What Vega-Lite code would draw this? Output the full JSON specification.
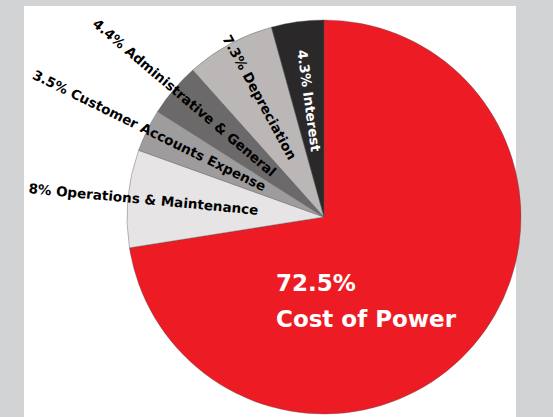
{
  "$schema": "https://vega.github.io/schema/vega-lite/v6.json",
  "width": 492,
  "height": 411,
  "autosize": {"type": "none"},
  "padding": {"left": 24, "top": 6, "right": 37, "bottom": 0},
  "background": "#d1d3d4",
  "view": {"fill": "white", "stroke": null},
  "data": {
    "values": [
      {"category": "Cost of Power", "pct": 72.5, "label": "72.5% Cost of Power"},
      {"category": "Operations & Maintenance", "pct": 8, "label": "8% Operations & Maintenance"},
      {"category": "Customer Accounts Expense", "pct": 3.5, "label": "3.5% Customer Accounts Expense"},
      {"category": "Administrative & General", "pct": 4.4, "label": "4.4% Administrative & General"},
      {"category": "Depreciation", "pct": 7.3, "label": "7.3% Depreciation"},
      {"category": "Interest", "pct": 4.3, "label": "4.3% Interest"}
    ]
  },
  "transform": [
    {"window": [{"op": "sum", "field": "pct", "as": "s1"}], "frame": [null, 0]},
    {"calculate": "datum.s1 - datum.pct", "as": "s0"},
    {"calculate": "(datum.s0 + datum.s1) / 2", "as": "mid"},
    {"calculate": "datum.mid * 3.6 - 270", "as": "ang"}
  ],
  "layer": [
    {
      "mark": {"type": "arc", "x": 300, "y": 211, "outerRadius": 197, "stroke": "#555555", "strokeWidth": 0.4},
      "encoding": {
        "theta": {"field": "s0", "type": "quantitative", "scale": {"domain": [0, 100], "range": [0, 6.283185307]}},
        "theta2": {"field": "s1"},
        "color": {
          "field": "category",
          "type": "nominal",
          "legend": null,
          "scale": {
            "domain": ["Cost of Power", "Operations & Maintenance", "Customer Accounts Expense", "Administrative & General", "Depreciation", "Interest"],
            "range": ["#ed1c24", "#e6e4e4", "#9e9c9c", "#6b6969", "#bbb7b7", "#2a2828"]
          }
        }
      }
    },
    {
      "transform": [{"filter": "datum.category !== 'Cost of Power'"}],
      "mark": {"type": "text", "x": 300, "y": 211, "radius": 66, "align": "right", "baseline": "middle", "font": "DejaVu Sans", "fontWeight": "bold", "fontSize": 13.5},
      "encoding": {
        "theta": {"field": "mid", "type": "quantitative", "stack": null},
        "angle": {"field": "ang", "type": "quantitative", "scale": null},
        "text": {"field": "label", "type": "nominal"},
        "color": {"condition": {"test": "datum.category === 'Interest'", "value": "white"}, "value": "black"}
      }
    },
    {
      "transform": [{"filter": "datum.category === 'Cost of Power'"}, {"calculate": "datum.pct + '%'", "as": "big"}],
      "mark": {"type": "text", "x": 300, "y": 211, "dx": -48, "dy": 74, "align": "left", "baseline": "alphabetic", "font": "DejaVu Sans", "fontWeight": "bold", "fontSize": 23, "color": "white"},
      "encoding": {"text": {"field": "big", "type": "nominal"}}
    },
    {
      "transform": [{"filter": "datum.category === 'Cost of Power'"}],
      "mark": {"type": "text", "x": 300, "y": 211, "dx": -48, "dy": 110, "align": "left", "baseline": "alphabetic", "font": "DejaVu Sans", "fontWeight": "bold", "fontSize": 23, "color": "white"},
      "encoding": {"text": {"field": "category", "type": "nominal"}}
    }
  ]
}
